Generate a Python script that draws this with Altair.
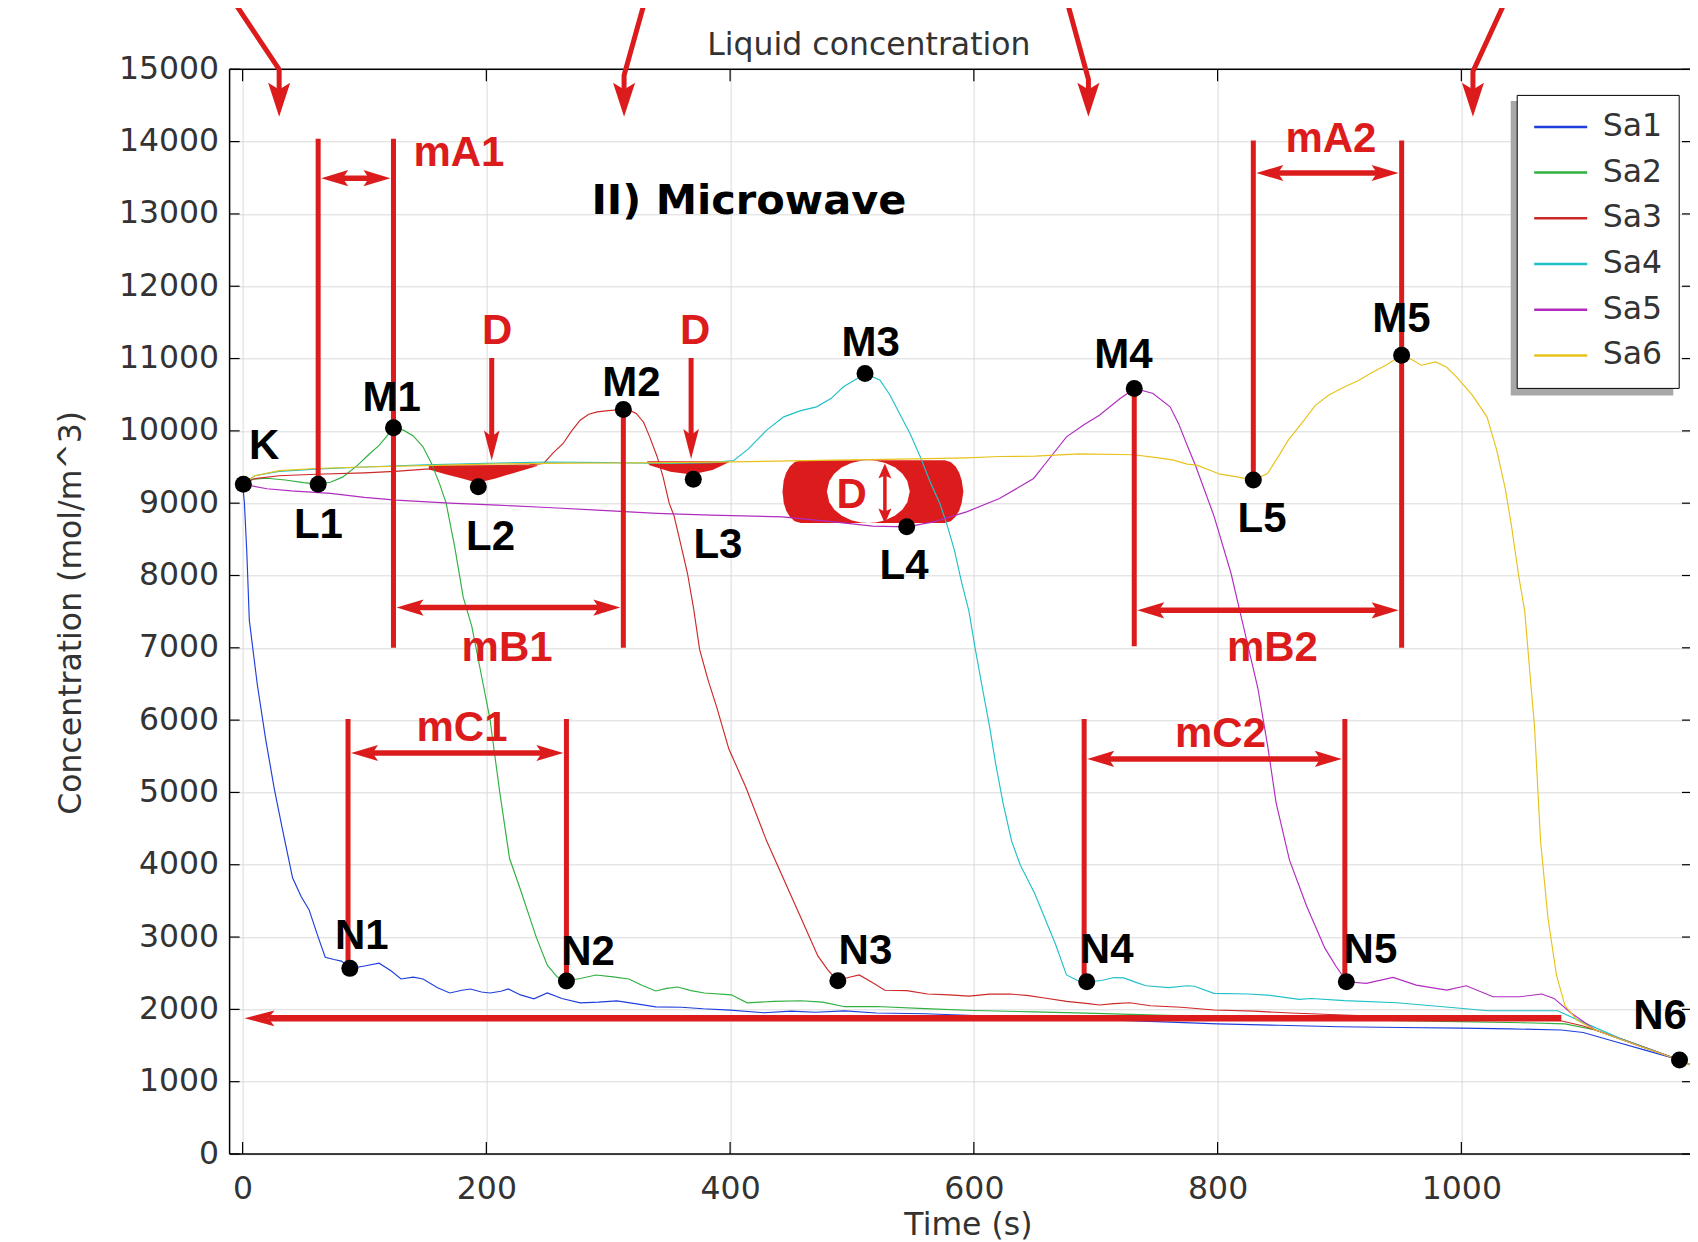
import altair as alt
import pandas as pd

# ---------------- data ----------------
SERIES = ["Sa1", "Sa2", "Sa3", "Sa4", "Sa5", "Sa6"]
COLORS = ["#1f3fdc", "#2fb040", "#cc2828", "#20c0c8", "#b02cc0", "#e8c21c"]

SA1_T = [0, 1.5, 3.5, 5.5, 12, 18.9, 26, 32.2, 41, 48, 54.5, 62, 67.8, 75, 81, 89, 100, 112, 122, 130,
         140, 148, 160, 170, 180, 187, 196, 203, 212, 218, 228, 239, 250, 262, 277, 292, 307, 322, 339, 360,
         378, 400, 428, 450, 470, 494, 520, 560, 600, 650, 700, 750, 800, 850, 900, 950, 1000, 1040, 1082, 1100,
         1125, 1150, 1179, 1195]
SA1_C = [9263, 9000, 8300, 7383, 6500, 5738, 5050, 4531, 3819, 3560, 3379, 3000, 2721, 2690, 2667, 2567, 2600, 2639, 2530, 2420,
         2445, 2420, 2300, 2227, 2265, 2282, 2240, 2227, 2250, 2282, 2200, 2146, 2227, 2150, 2090, 2100, 2117, 2080, 2035, 2030,
         2008, 1990, 1953, 1975, 1960, 1980, 1950, 1940, 1915, 1890, 1860, 1830, 1800, 1780, 1760, 1750, 1740, 1730, 1715, 1680,
         1560, 1440, 1300, 1180]

SA2_T = [0, 8, 20, 35, 50, 62, 72, 82, 94, 104, 112, 118, 124, 132, 140, 148, 155, 162, 167, 174,
         181, 188, 195, 203, 211, 219, 228, 235, 241, 250, 258, 266, 278, 290, 304, 317, 328, 339, 348, 357,
         368, 379, 401, 414, 436, 458, 476, 494, 520, 560, 600, 650, 700, 750, 800, 850, 900, 950, 1000, 1050,
         1085, 1110, 1130, 1150, 1179, 1195]
SA2_C = [9263, 9330, 9345, 9320, 9285, 9263, 9290, 9360, 9520, 9680, 9800, 9920, 10040, 10010, 9930, 9780, 9550, 9250, 9000, 8400,
         7700, 7300, 6700, 6010, 5000, 4090, 3654, 3300, 2996, 2612, 2450, 2392, 2430, 2475, 2450, 2420, 2330, 2254, 2290, 2309,
         2260, 2226, 2201, 2091, 2110, 2119, 2100, 2037, 2040, 2010, 1985, 1965, 1945, 1920, 1900, 1880, 1860, 1845, 1830, 1815,
         1800, 1714, 1595, 1475, 1300, 1180]

SA3_T = [0, 10, 30, 60, 100, 125, 150, 180, 210, 235, 247, 255, 263, 270, 277, 284, 291, 300, 312, 318,
         323, 329, 334, 340, 345, 350, 354, 360, 365, 370, 375, 382, 389, 399, 413, 430, 444, 458, 472, 480,
         488, 497, 506, 516, 527, 545, 562, 580, 596, 613, 630, 645, 658, 676, 694, 703, 715, 728, 745, 770,
         797, 830, 860, 903, 940, 985, 1030, 1079, 1100, 1130, 1150, 1179, 1195]
SA3_C = [9263, 9340, 9380, 9400, 9420, 9440, 9470, 9500, 9520, 9530, 9549, 9700, 9826, 10000, 10148, 10230, 10263, 10280, 10296, 10280,
         10241, 10120, 9917, 9650, 9364, 9000, 8825, 8396, 8031, 7550, 6974, 6550, 6180, 5600, 5069, 4327, 3799, 3270, 2740, 2550,
         2396, 2440, 2476, 2380, 2265, 2260, 2212, 2200, 2184, 2210, 2212, 2190, 2158, 2110, 2079, 2060, 2080, 2092, 2050, 2030,
         1991, 1975, 1950, 1922, 1900, 1876, 1865, 1853, 1770, 1600, 1480, 1300, 1180]

SA4_T = [0, 10, 30, 60, 100, 150, 200, 250, 300, 350, 385, 403, 415, 430, 444, 458, 471, 483, 493, 502,
         511, 523, 531, 539, 548, 556, 564, 572, 578, 584, 590, 596, 601, 607, 613, 618, 624, 631, 638, 644,
         650, 658, 667, 676, 685, 693, 705, 715, 723, 732, 741, 760, 775, 781, 797, 825, 841, 867, 877, 904,
         947, 985, 1022, 1079, 1100, 1130, 1150, 1179, 1195]
SA4_C = [9263, 9380, 9440, 9470, 9500, 9530, 9550, 9570, 9560, 9550, 9560, 9590, 9750, 10010, 10194, 10280, 10332, 10450, 10609, 10700,
         10793, 10701, 10500, 10241, 9950, 9641, 9300, 9000, 8700, 8350, 7900, 7503, 7000, 6444, 5900, 5386, 4850, 4327, 4000, 3799,
         3600, 3270, 2900, 2476, 2400, 2381, 2400, 2440, 2436, 2380, 2327, 2300, 2327, 2320, 2221, 2212, 2198, 2138, 2150, 2120,
         2092, 2037, 1981, 1981, 1820, 1600, 1475, 1300, 1180]

SA5_T = [0, 20, 40, 72, 100, 126, 170, 209, 250, 291, 340, 384, 443, 485, 517, 545, 567, 594, 621, 640,
         649, 662, 676, 690, 703, 720, 732, 747, 761, 768, 775, 782, 797, 811, 822, 833, 841, 848, 859, 873,
         888, 897, 906, 922, 944, 963, 988, 1004, 1026, 1048, 1066, 1076, 1090, 1110, 1130, 1150, 1179, 1195]
SA5_C = [9263, 9200, 9170, 9135, 9080, 9042, 9000, 8973, 8940, 8904, 8860, 8835, 8811, 8742, 8682, 8673, 8742, 8880, 9065, 9250,
         9342, 9618, 9917, 10080, 10217, 10448, 10587, 10517, 10332, 10100, 9800, 9513, 8825, 8031, 7238, 6444, 5651, 4857, 4063, 3429,
         2847, 2600, 2381, 2359, 2443, 2336, 2267, 2327, 2175, 2175, 2212, 2152, 1950, 1714, 1590, 1470, 1300, 1180]

SA6_T = [0, 10, 30, 60, 100, 150, 200, 250, 300, 350, 403, 450, 485, 540, 594, 621, 650, 687, 731, 750,
         764, 775, 783, 802, 816, 829, 841, 850, 858, 871, 880, 891, 903, 916, 926, 938, 951, 960, 967, 979,
         988, 996, 1009, 1021, 1029, 1036, 1041, 1047, 1052, 1056, 1060, 1065, 1071, 1078, 1085, 1095, 1110, 1130, 1150, 1179,
         1195]
SA6_C = [9263, 9380, 9450, 9480, 9500, 9520, 9540, 9550, 9555, 9560, 9572, 9585, 9595, 9610, 9627, 9645, 9650, 9682, 9670, 9630,
         9595, 9540, 9526, 9401, 9364, 9320, 9411, 9650, 9871, 10148, 10350, 10493, 10600, 10701, 10800, 10908, 11046, 10980, 10908, 10954,
         10880, 10747, 10493, 10194, 9733, 9200, 8700, 8000, 7503, 6700, 5915, 4327, 3270, 2476, 2053, 1850, 1714, 1590, 1470, 1300,
         1180]

X_TICKS = [0, 200, 400, 600, 800, 1000]
Y_TICKS = [0, 1000, 2000, 3000, 4000, 5000, 6000, 7000, 8000, 9000, 10000, 11000, 12000, 13000, 14000, 15000]

# marked points
PT_NAMES = ["K", "L1", "M1", "L2", "M2", "L3", "M3", "L4", "M4", "L5", "M5", "N1", "N2", "N3", "N4", "N5", "N6"]
PT_T = [0.6, 62, 123.8, 193.4, 312.4, 369.8, 510.7, 544.9, 731.6, 829.3, 951, 88, 265.7, 488.4, 692.6, 905.6, 1179]
PT_C = [9263, 9263, 10042, 9226, 10296, 9332, 10793, 8673, 10587, 9320, 11046, 2567, 2392, 2396, 2381, 2381, 1300]
# point label anchors
LBL_T = [17.7, 62.2, 122.3, 203.4, 319, 390, 515.4, 542.7, 722.8, 836.4, 950.9, 97.8, 283.5, 511, 709, 925.4, 1163]
LBL_C = [9613, 8519, 10270, 8356, 10488, 8247, 11030, 7950, 10871, 8602, 11363, 2831, 2612, 2632, 2639, 2639, 1734]

# red annotation labels
RED_TEXT = ["mA1", "mB1", "mC1", "mA2", "mB2", "mC2", "D", "D"]
RED_T = [177.5, 217, 180, 893, 845, 802.4, 208.8, 371.3]
RED_C = [13660, 6816, 5710, 13853, 6816, 5627, 11199, 11199]

# vertical marker lines: time, from, to
VL_T = [62, 123.8, 312.4, 731.6, 829.3, 951, 86.5, 265.7, 690.5, 904.4]
VL_C1 = [9263, 7000, 7000, 7020, 9320, 7000, 2567, 2392, 2381, 2381]
VL_C2 = [14040, 14040, 10296, 10587, 14014, 14014, 6014, 6014, 6014, 6014]

# double-headed interval arrows: left, right, level
HA_T1 = [62, 123.8, 86.5, 829.3, 731.6, 690.5]
HA_T2 = [123.8, 312.4, 265.7, 951, 951, 904.4]
HA_C = [13494, 7556, 5545, 13566, 7519, 5464]

# "D" down arrows: time, top, tip
DA_T = [204.4, 368]
DA_TOP = [11008, 11008]
DA_TIP = [9590, 9610]

# top bent arrows: start, bend, tip
TA_T0 = [-7.9, 330.2, 676.2, 1036.4]
TA_C0 = [15955, 15955, 15955, 15955]
TA_T1 = [30, 313, 694, 1009.5]
TA_C1 = [14998, 14917, 14862, 14970]
TA_TIP = [14343, 14343, 14343, 14343]

# long bottom arrow
BA_T = [1082, 1.5]
BA_C = 1876

# small vertical double arrow inside the big D
VA_T = 527
VA_C = [9549, 8720]

# red filled regions
L2S_T = [152.8, 166.5, 180.2, 192.5, 207.5, 221.2, 234.9, 241.8]
L2S_TOP = [9526, 9526, 9526, 9526, 9526, 9526, 9526, 9526]
L2S_BOT = [9466, 9401, 9342, 9281, 9342, 9411, 9480, 9515]
L3S_T = [332, 334, 351, 368.4, 385.6, 399]
L3S_TOP = [9580, 9580, 9580, 9580, 9580, 9580]
L3S_BOT = [9560, 9523, 9433, 9397, 9460, 9567]
BLOB_T = [443, 444, 446, 449, 453, 458, 576, 581, 585, 588, 590, 591.4]
BLOB_TOP = [9160, 9316, 9421, 9508, 9570, 9595, 9595, 9570, 9508, 9421, 9316, 9160]
BLOB_BOT = [9160, 9004, 8899, 8812, 8750, 8725, 8725, 8750, 8812, 8899, 9004, 9160]
WHITE_T = [479.4, 481.4, 485.4, 491.4, 499.4, 507.4, 513.4, 519.4, 527.4, 535.4, 541.4, 545.4, 547.4]
WHITE_TOP = [9160, 9307, 9407, 9492, 9556, 9588, 9595, 9588, 9556, 9492, 9407, 9307, 9160]
WHITE_BOT = [9160, 9013, 8913, 8828, 8764, 8732, 8725, 8732, 8764, 8828, 8913, 9013, 9160]

# ---------------- layout ----------------
RED = "#dc1c1c"
FONT = "DejaVu Sans"
BFONT = "Liberation Sans"
TXT = "#333333"
W, H = 1460.4, 1084.7
xs = alt.Scale(domain=[-10.67, 1187.6], nice=False, zero=False)
ys = alt.Scale(domain=[0, 15000], nice=False, zero=False)


def X(f="t"):
    return alt.X(f + ":Q", scale=xs)


def Y(f="c"):
    return alt.Y(f + ":Q", scale=ys, stack=None)


rows = []
for name, ts, cs in zip(SERIES, [SA1_T, SA2_T, SA3_T, SA4_T, SA5_T, SA6_T],
                        [SA1_C, SA2_C, SA3_C, SA4_C, SA5_C, SA6_C]):
    for t, c in zip(ts, cs):
        rows.append({"series": name, "t": t, "c": c})
lines_df = pd.DataFrame(rows)

lines = alt.Chart(lines_df).mark_line(strokeWidth=1.15).encode(
    x=alt.X("t:Q", scale=xs, axis=alt.Axis(
        values=X_TICKS, format="d", title="Time (s)", grid=True, ticks=False, domain=False,
        labelFont=FONT, labelFontSize=31.5, labelColor=TXT, labelPadding=19, labelFlush=False,
        titleFont=FONT, titleFontSize=31.5, titleFontWeight="normal", titleColor=TXT,
        titleX=738.3, titleY=80.5, titleBaseline="alphabetic", titleAlign="center")),
    y=alt.Y("c:Q", scale=ys, axis=alt.Axis(
        values=Y_TICKS, format="d", title="Concentration (mol/m^3)", grid=True, ticks=False, domain=False,
        labelFont=FONT, labelFontSize=31.5, labelColor=TXT, labelPadding=11, labelFlush=False,
        titleFont=FONT, titleFontSize=31.5, titleFontWeight="normal", titleColor=TXT,
        titleAngle=270, titleX=-149.6, titleY=543, titleBaseline="alphabetic", titleAlign="center")),
    color=alt.Color("series:N", scale=alt.Scale(domain=SERIES, range=COLORS), legend=alt.Legend(
        orient="none", legendX=1287.1, legendY=25.6, title=None, symbolType="stroke",
        symbolSize=2809, symbolStrokeWidth=2.5, labelFont=FONT, labelFontSize=31.5, labelColor=TXT,
        labelOffset=14, rowPadding=13.7, clipHeight=32, padding=16, strokeColor="black",
        fillColor="white", labelLimit=0)),
)

# red filled regions
reg_rows = []
for g, ts, tops, bots in [("l2", L2S_T, L2S_TOP, L2S_BOT), ("l3", L3S_T, L3S_TOP, L3S_BOT),
                          ("blob", BLOB_T, BLOB_TOP, BLOB_BOT)]:
    for t, a, b in zip(ts, tops, bots):
        reg_rows.append({"g": g, "t": t, "top": a, "bot": b})
regions = alt.Chart(pd.DataFrame(reg_rows)).mark_area(color=RED, opacity=1).encode(
    x=X(), y=Y("top"), y2="bot:Q", detail="g:N")
white = alt.Chart(pd.DataFrame({"t": WHITE_T, "top": WHITE_TOP, "bot": WHITE_BOT})).mark_area(
    color="white", opacity=1).encode(x=X(), y=Y("top"), y2="bot:Q")

# segments
seg = []
for t, a, b in zip(VL_T, VL_C1, VL_C2):
    seg.append({"t": t, "c": a, "t2": t, "c2": b, "w": 5})
heads_mid = []
for t1, t2, c in zip(HA_T1, HA_T2, HA_C):
    lt, rt = t1 + 2.5, t2 - 2.5
    seg.append({"t": lt + 12, "c": c, "t2": rt - 12, "c2": c, "w": 5.5})
    heads_mid.append({"t": lt, "c": c, "a": 180})
    heads_mid.append({"t": rt, "c": c, "a": 0})
heads_d = []
for t, top, tip in zip(DA_T, DA_TOP, DA_TIP):
    seg.append({"t": t, "c": top, "t2": t, "c2": tip + 300, "w": 5})
    heads_d.append({"t": t, "c": tip, "a": 90})
seg.append({"t": BA_T[0], "c": BA_C, "t2": BA_T[1] + 20, "c2": BA_C, "w": 6.5})
heads_d.append({"t": BA_T[1], "c": BA_C, "a": 180})
seg.append({"t": VA_T, "c": VA_C[0] - 150, "t2": VA_T, "c2": VA_C[1] + 150, "w": 3.5})
heads_s = [{"t": VA_T, "c": VA_C[0], "a": 270}, {"t": VA_T, "c": VA_C[1], "a": 90}]

segs = alt.Chart(pd.DataFrame(seg)).mark_rule(color=RED, strokeCap="butt").encode(
    x=X(), y=Y(), x2="t2:Q", y2="c2:Q", strokeWidth=alt.StrokeWidth("w:Q", scale=None))

ta_rows = []
heads_top = []
for i in range(len(TA_T0)):
    ta_rows.append({"id": i, "k": 0, "t": TA_T0[i], "c": TA_C0[i]})
    ta_rows.append({"id": i, "k": 1, "t": TA_T1[i], "c": TA_C1[i]})
    ta_rows.append({"id": i, "k": 2, "t": TA_T1[i], "c": TA_TIP[i] + 350})
    heads_top.append({"t": TA_T1[i], "c": TA_TIP[i], "a": 90})
top_arrows = alt.Chart(pd.DataFrame(ta_rows)).mark_line(
    color=RED, strokeWidth=5, strokeJoin="miter").encode(x=X(), y=Y(), detail="id:N", order="k:Q")


def heads(rows_, size, f):
    shape = "M0,0L-2,-%sL-1.6,0L-2,%sZ" % (f, f)
    return alt.Chart(pd.DataFrame(rows_)).mark_point(
        shape=shape, size=size, filled=True, color=RED, opacity=1, strokeWidth=0).encode(
        x=X(), y=Y(), angle=alt.Angle("a:Q", scale=None))


h1 = heads(heads_mid, 729, 0.6)
h2 = heads(heads_d, 900, 0.52)
h3 = heads(heads_top, 1156, 0.65)
h4 = heads(heads_s, 225, 0.87)

dots = alt.Chart(pd.DataFrame({"t": PT_T, "c": PT_C})).mark_circle(
    size=289, color="black", opacity=1).encode(x=X(), y=Y())

black_lbl = alt.Chart(pd.DataFrame({"text": PT_NAMES, "t": LBL_T, "c": LBL_C})).mark_text(
    font=BFONT, fontSize=42, fontWeight="bold", color="black", align="center", baseline="alphabetic").encode(
    x=X(), y=Y(), text="text:N")
red_lbl = alt.Chart(pd.DataFrame({"text": RED_TEXT, "t": RED_T, "c": RED_C})).mark_text(
    font=BFONT, fontSize=42, fontWeight="bold", color=RED, align="center", baseline="alphabetic").encode(
    x=X(), y=Y(), text="text:N")
blob_lbl = alt.Chart(pd.DataFrame({"text": ["D"], "t": [499.7], "c": [8927]})).mark_text(
    font=BFONT, fontSize=42, fontWeight="bold", color=RED, align="center", baseline="alphabetic").encode(
    x=X(), y=Y(), text="text:N")
heading = alt.Chart(pd.DataFrame({"text": ["II) Microwave"], "t": [415.4], "c": [13003]})).mark_text(
    font=FONT, fontSize=41.5, fontWeight="bold", color="black", align="center", baseline="alphabetic").encode(
    x=X(), y=Y(), text="text:N")
top_title = alt.Chart(pd.DataFrame({"text": ["Liquid concentration"], "t": [381.3], "c": [15204]})).mark_text(
    font=FONT, fontSize=31.5, color=TXT, align="left", baseline="alphabetic").encode(
    x=X(), y=Y(), text="text:N")

# frame (top, left, bottom) and inward ticks
one = pd.DataFrame({"a": [0]})
frame_top = alt.Chart(one).mark_rule(color="black", strokeWidth=1.5).encode(
    x=alt.value(0), x2=alt.value(W), y=alt.value(0))
frame_bot = alt.Chart(one).mark_rule(color="black", strokeWidth=1.5).encode(
    x=alt.value(0), x2=alt.value(W), y=alt.value(H))
frame_left = alt.Chart(one).mark_rule(color="black", strokeWidth=1.5).encode(
    x=alt.value(0), y=alt.value(0), y2=alt.value(H))
xt = pd.DataFrame({"t": X_TICKS})
yt = pd.DataFrame({"c": Y_TICKS})
tick_top = alt.Chart(xt).mark_rule(color="black", strokeWidth=1.2).encode(
    x=X(), y=alt.value(0), y2=alt.value(12))
tick_bot = alt.Chart(xt).mark_rule(color="black", strokeWidth=1.2).encode(
    x=X(), y=alt.value(H), y2=alt.value(H - 12))
tick_left = alt.Chart(yt).mark_rule(color="black", strokeWidth=1.2).encode(
    y=Y(), x=alt.value(0), x2=alt.value(10))
tick_right = alt.Chart(yt).mark_rule(color="black", strokeWidth=1.2).encode(
    y=Y(), x=alt.value(W - 8), x2=alt.value(W))

shadow = alt.Chart(one).mark_rect(color="#a8a8a8").encode(
    x=alt.value(1281.1), x2=alt.value(1443.7), y=alt.value(31.6), y2=alt.value(326.2))

chart = alt.layer(
    lines.mark_line(strokeWidth=1.15, opacity=0),
    shadow, regions, white, lines, frame_top, frame_bot, frame_left,
    tick_top, tick_bot, tick_left, tick_right,
    segs, top_arrows, h1, h2, h3, h4, dots, black_lbl, red_lbl, blob_lbl, heading, top_title
).properties(
    width=W, height=H,
    autosize=alt.AutoSizeParams(type="none"),
    padding={"left": 221.6, "top": 61.3, "right": 0, "bottom": 88},
).configure_view(stroke=None).configure_axis(
    gridColor="#dadada", gridWidth=1)

chart.save("out.html", embed_options={"renderer": "svg", "actions": False})
